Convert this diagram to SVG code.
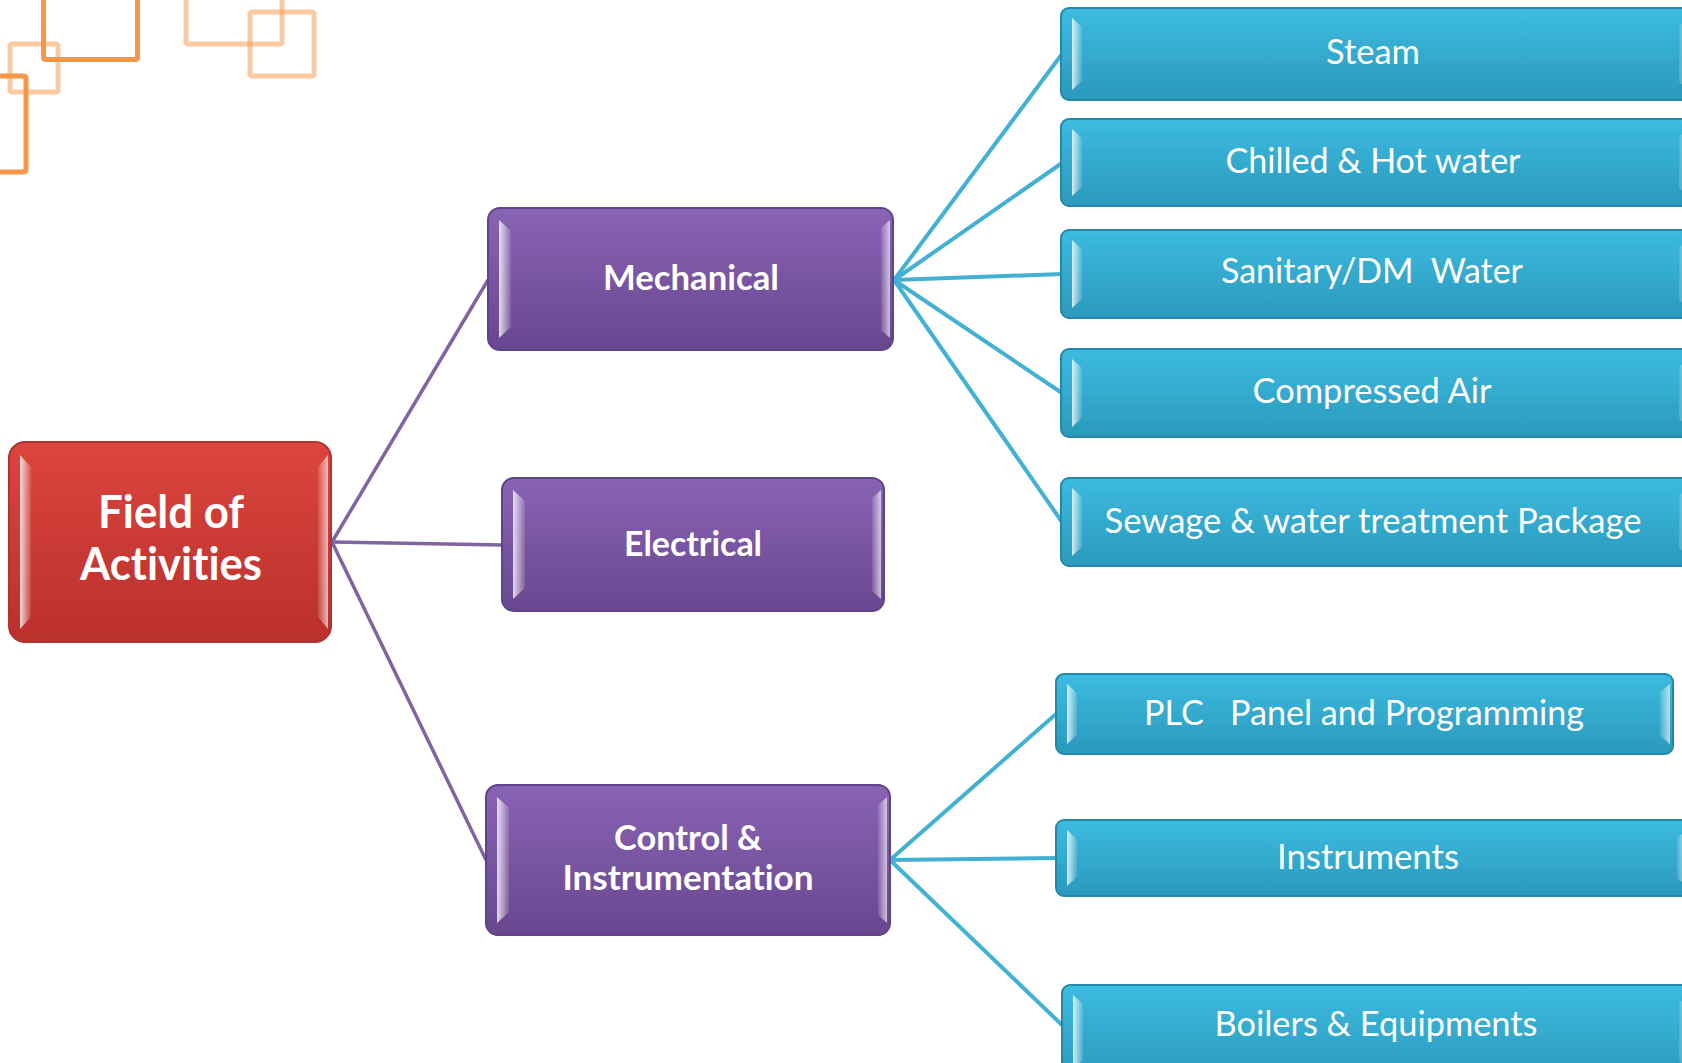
<svg xmlns="http://www.w3.org/2000/svg" width="1682" height="1063" viewBox="0 0 1682 1063">
<defs>
<linearGradient id="gRed" x1="0" y1="0" x2="0" y2="1"><stop offset="0" stop-color="#DC453E"/><stop offset="1" stop-color="#BA302C"/></linearGradient>
<linearGradient id="gPur" x1="0" y1="0" x2="0" y2="1"><stop offset="0" stop-color="#8963B4"/><stop offset="1" stop-color="#68478F"/></linearGradient>
<linearGradient id="gBlu" x1="0" y1="0" x2="0" y2="1"><stop offset="0" stop-color="#3DBBE0"/><stop offset="1" stop-color="#2A99BC"/></linearGradient>
<linearGradient id="hlL" x1="0" y1="0" x2="1" y2="0"><stop offset="0" stop-color="#fff" stop-opacity="0.8"/><stop offset="1" stop-color="#fff" stop-opacity="0.1"/></linearGradient>
<linearGradient id="hlR" x1="1" y1="0" x2="0" y2="0"><stop offset="0" stop-color="#fff" stop-opacity="0.65"/><stop offset="1" stop-color="#fff" stop-opacity="0.1"/></linearGradient>
</defs>
<style>
.dk{fill:none;stroke:#F79646;stroke-width:5}
.lt{fill:none;stroke:#F79646;stroke-opacity:0.5;stroke-width:5}
.red{fill:url(#gRed);stroke:#B0342F;stroke-width:2}
.pur{fill:url(#gPur);stroke:#60448A;stroke-width:2}
.blu{fill:url(#gBlu);stroke:#2488A8;stroke-width:2}
.hl{fill:url(#hlL)}
.hr{fill:url(#hlR)}
.cp{stroke:#8064A2;stroke-width:3.5;fill:none}
.cb{stroke:#42B1D3;stroke-width:4;fill:none}
.tb{font-family:Lato,"Open Sans",sans-serif;font-weight:bold;fill:#fff;text-anchor:middle;font-variant-ligatures:none;font-feature-settings:"liga" 0}
.tr{font-family:Lato,"Open Sans",sans-serif;fill:#fff;text-anchor:middle;font-size:35px;font-variant-ligatures:none;font-feature-settings:"liga" 0}
</style>
<rect width="1682" height="1063" fill="#fff"/>
<g id="decoration">
<rect class="dk" x="43.5" y="-40" width="94" height="99.5" rx="2"/>
<rect class="dk" x="-70" y="76" width="96" height="96" rx="2"/>
<rect class="lt" x="10" y="44" width="48" height="48" rx="2"/>
<rect class="lt" x="186" y="-52" width="96" height="96" rx="2"/>
<rect class="lt" x="250" y="12" width="64" height="64" rx="2"/>
</g>
<g id="connectors">
<path class="cp" d="M332,542 L488,280"/>
<path class="cp" d="M332,542 L502,545"/>
<path class="cp" d="M332,542 L486,860"/>
<path class="cb" d="M894,280 L1062,54"/>
<path class="cb" d="M894,280 L1062,163"/>
<path class="cb" d="M894,280 L1062,274"/>
<path class="cb" d="M894,280 L1062,393"/>
<path class="cb" d="M894,280 L1062,522"/>
<path class="cb" d="M890,860 L1056,714"/>
<path class="cb" d="M890,860 L1056,858"/>
<path class="cb" d="M890,860 L1062,1025"/>
</g>
<g id="field">
<rect class="red" x="9" y="442" width="322" height="200" rx="16"/>
<polygon class="hl" points="20,455 31,467 31,617 20,629"/>
<polygon class="hr" points="328,455 318,467 318,617 328,629"/>
<text class="tb" font-size="45" x="171" y="528" textLength="146" lengthAdjust="spacingAndGlyphs">Field of</text>
<text class="tb" font-size="45" x="171" y="580" textLength="182" lengthAdjust="spacingAndGlyphs">Activities</text>
</g>
<g id="mechanical">
<rect class="pur" x="488" y="208" width="405" height="142" rx="12"/>
<polygon class="hl" points="499,220 511,231 511,327 499,338"/>
<polygon class="hr" points="890,220 881,228 881,330 890,338"/>
<text class="tb" font-size="35" x="691" y="290" textLength="176" lengthAdjust="spacingAndGlyphs">Mechanical</text>
</g>
<g id="electrical">
<rect class="pur" x="502" y="478" width="382" height="133" rx="12"/>
<polygon class="hl" points="513,490 525,501 525,588 513,599"/>
<polygon class="hr" points="881,490 872,498 872,591 881,599"/>
<text class="tb" font-size="35" x="693" y="556" textLength="138" lengthAdjust="spacingAndGlyphs">Electrical</text>
</g>
<g id="control">
<rect class="pur" x="486" y="785" width="404" height="150" rx="12"/>
<polygon class="hl" points="497,797 509,808 509,912 497,923"/>
<polygon class="hr" points="887,797 878,805 878,915 887,923"/>
<text class="tb" font-size="35" x="688" y="850" textLength="148" lengthAdjust="spacingAndGlyphs">Control &amp;</text>
<text class="tb" font-size="35" x="688" y="890" textLength="251" lengthAdjust="spacingAndGlyphs">Instrumentation</text>
</g>
<g id="steam">
<rect class="blu" x="1061" y="8" width="631" height="92" rx="8"/>
<polygon class="hl" points="1072,18 1082,27 1082,81 1072,90"/>
<polygon class="hr" points="1689,18 1679,26 1679,82 1689,90"/>
<text class="tr" x="1373" y="64" textLength="94" lengthAdjust="spacingAndGlyphs">Steam</text>
</g>
<g id="chilled">
<rect class="blu" x="1061" y="119" width="631" height="87" rx="8"/>
<polygon class="hl" points="1072,129 1082,138 1082,187 1072,196"/>
<polygon class="hr" points="1689,129 1679,137 1679,188 1689,196"/>
<text class="tr" x="1373" y="173" textLength="295" lengthAdjust="spacingAndGlyphs">Chilled &amp; Hot water</text>
</g>
<g id="sanitary">
<rect class="blu" x="1061" y="230" width="631" height="88" rx="8"/>
<polygon class="hl" points="1072,240 1082,249 1082,299 1072,308"/>
<polygon class="hr" points="1689,240 1679,248 1679,300 1689,308"/>
<text class="tr" x="1372" y="283" textLength="302" lengthAdjust="spacingAndGlyphs" xml:space="preserve">Sanitary/DM  Water</text>
</g>
<g id="compressed">
<rect class="blu" x="1061" y="349" width="631" height="88" rx="8"/>
<polygon class="hl" points="1072,359 1082,368 1082,418 1072,427"/>
<polygon class="hr" points="1689,359 1679,367 1679,419 1689,427"/>
<text class="tr" x="1372" y="403" textLength="239" lengthAdjust="spacingAndGlyphs">Compressed Air</text>
</g>
<g id="sewage">
<rect class="blu" x="1061" y="478" width="631" height="88" rx="8"/>
<polygon class="hl" points="1072,488 1082,497 1082,547 1072,556"/>
<polygon class="hr" points="1689,488 1679,496 1679,548 1689,556"/>
<text class="tr" x="1373" y="533" textLength="537" lengthAdjust="spacingAndGlyphs">Sewage &amp; water treatment Package</text>
</g>
<g id="plc">
<rect class="blu" x="1056" y="674" width="617" height="80" rx="8"/>
<polygon class="hl" points="1067,684 1077,693 1077,735 1067,744"/>
<polygon class="hr" points="1670,684 1660,692 1660,736 1670,744"/>
<text class="tr" x="1364" y="725" textLength="440" lengthAdjust="spacingAndGlyphs" xml:space="preserve">PLC   Panel and Programming</text>
</g>
<g id="instruments">
<rect class="blu" x="1056" y="820" width="634" height="76" rx="8"/>
<polygon class="hl" points="1067,830 1077,839 1077,877 1067,886"/>
<polygon class="hr" points="1687,830 1677,838 1677,878 1687,886"/>
<text class="tr" x="1368" y="869" textLength="182" lengthAdjust="spacingAndGlyphs">Instruments</text>
</g>
<g id="boilers">
<rect class="blu" x="1062" y="985" width="630" height="95" rx="8"/>
<polygon class="hl" points="1073,995 1083,1004 1083,1060 1073,1069"/>
<polygon class="hr" points="1689,995 1679,1003 1679,1061 1689,1069"/>
<text class="tr" x="1376" y="1036" textLength="323" lengthAdjust="spacingAndGlyphs">Boilers &amp; Equipments</text>
</g>
</svg>
